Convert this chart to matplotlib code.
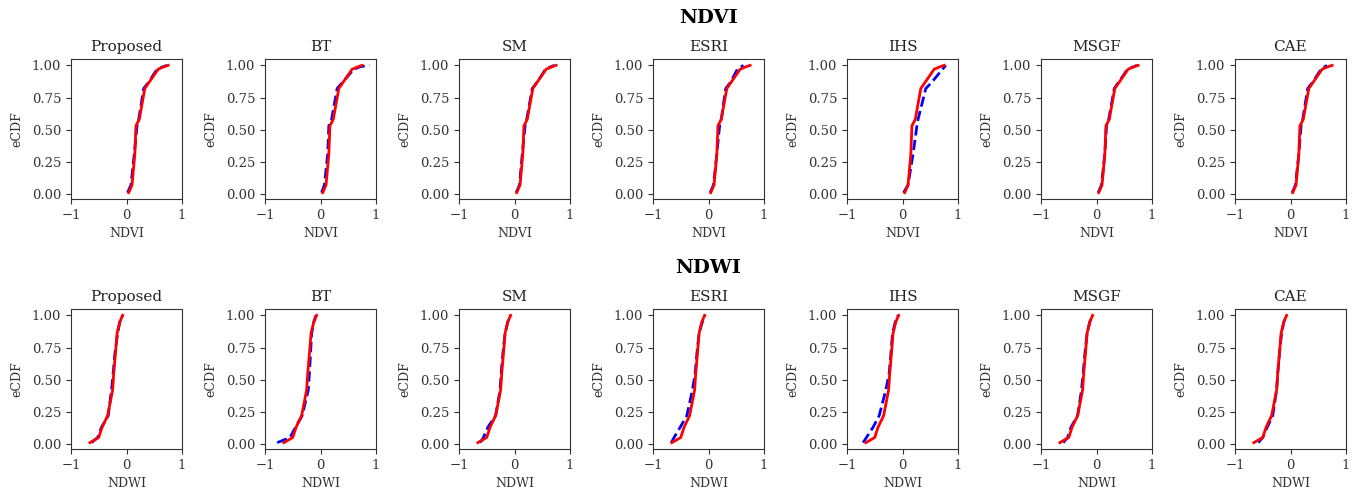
import numpy as np
import matplotlib
matplotlib.use("Agg")
from matplotlib import pyplot as plt

# eCDF curves (x value at each cumulative probability level)
methods = ["Proposed", "BT", "SM", "ESRI", "IHS", "MSGF", "CAE"]

# NDVI
ndvi_p = [0.01, 0.07, 0.31, 0.53, 0.58, 0.82, 0.87, 0.97, 0.99, 1.00]
ndvi_ref = [0.04, 0.10, 0.15, 0.17, 0.23, 0.33, 0.41, 0.57, 0.68, 0.75]
ndvi_proposed = [0.02, 0.08, 0.14, 0.19, 0.22, 0.31, 0.40, 0.55, 0.66, 0.73]
ndvi_bt = [0.02, 0.07, 0.13, 0.15, 0.20, 0.30, 0.40, 0.60, 0.72, 0.88]
ndvi_sm = [0.03, 0.09, 0.14, 0.19, 0.22, 0.32, 0.41, 0.56, 0.66, 0.72]
ndvi_esri = [0.03, 0.09, 0.15, 0.20, 0.23, 0.31, 0.40, 0.52, 0.59, 0.63]
ndvi_ihs = [0.02, 0.10, 0.19, 0.26, 0.28, 0.42, 0.53, 0.72, 0.76, 0.78]
ndvi_msgf = [0.03, 0.09, 0.15, 0.18, 0.22, 0.32, 0.40, 0.56, 0.67, 0.73]
ndvi_cae = [0.03, 0.09, 0.15, 0.19, 0.22, 0.31, 0.40, 0.55, 0.62, 0.66]

# NDWI
ndwi_p = [0.01, 0.05, 0.13, 0.22, 0.42, 0.55, 0.70, 0.86, 0.95, 1.00]
ndwi_ref = [-0.66, -0.50, -0.44, -0.34, -0.25, -0.23, -0.20, -0.17, -0.12, -0.07]
ndwi_proposed = [-0.63, -0.52, -0.45, -0.33, -0.27, -0.24, -0.21, -0.16, -0.12, -0.07]
ndwi_bt = [-0.78, -0.55, -0.45, -0.33, -0.22, -0.20, -0.18, -0.16, -0.12, -0.08]
ndwi_sm = [-0.62, -0.56, -0.48, -0.34, -0.26, -0.24, -0.21, -0.17, -0.12, -0.08]
ndwi_esri = [-0.67, -0.62, -0.51, -0.39, -0.29, -0.24, -0.21, -0.17, -0.11, -0.06]
ndwi_ihs = [-0.71, -0.65, -0.53, -0.42, -0.30, -0.24, -0.21, -0.18, -0.13, -0.08]
ndwi_msgf = [-0.60, -0.52, -0.46, -0.34, -0.27, -0.24, -0.21, -0.17, -0.12, -0.07]
ndwi_cae = [-0.58, -0.50, -0.42, -0.32, -0.25, -0.23, -0.20, -0.16, -0.12, -0.07]

rows = [
    ("NDVI", ndvi_p, ndvi_ref,
     [ndvi_proposed, ndvi_bt, ndvi_sm, ndvi_esri, ndvi_ihs, ndvi_msgf, ndvi_cae]),
    ("NDWI", ndwi_p, ndwi_ref,
     [ndwi_proposed, ndwi_bt, ndwi_sm, ndwi_esri, ndwi_ihs, ndwi_msgf, ndwi_cae]),
]

plt.rcParams["font.family"] = "DejaVu Serif"

W, H = 1357, 493
fig = plt.figure(figsize=(W / 100, H / 100), dpi=100)

left0, colstep, axw, axh = 71, 194, 111, 140
row_tops = [59, 309]
row_title_y = [18, 268]

for r, (name, p, ref, series) in enumerate(rows):
    fig.text(708 / W, 1 - row_title_y[r] / H, name, ha="center", va="center",
             fontsize=14, fontweight="bold")
    for c, meth in enumerate(methods):
        ax = fig.add_axes([(left0 + c * colstep) / W, 1 - (row_tops[r] + axh) / H,
                           axw / W, axh / H])
        ax.plot(series[c], p, color="blue", linestyle="--", linewidth=2)
        ax.plot(ref, p, color="red", linewidth=2)
        ax.set_xlim(-1, 1)
        ax.set_xticks([-1, 0, 1])
        ax.set_yticks([0, 0.25, 0.5, 0.75, 1.0])
        ax.set_yticklabels(["0.00", "0.25", "0.50", "0.75", "1.00"])
        ax.tick_params(labelsize=9.5, colors="#333333")
        for s in ax.spines.values():
            s.set_color("#333333")
        ax.set_title(meth, fontsize=11, color="#222222")
        ax.set_xlabel(name, fontsize=9, color="#333333")
        ax.set_ylabel("eCDF", fontsize=9, color="#333333", labelpad=6)

fig.savefig("out.png", dpi=100)
